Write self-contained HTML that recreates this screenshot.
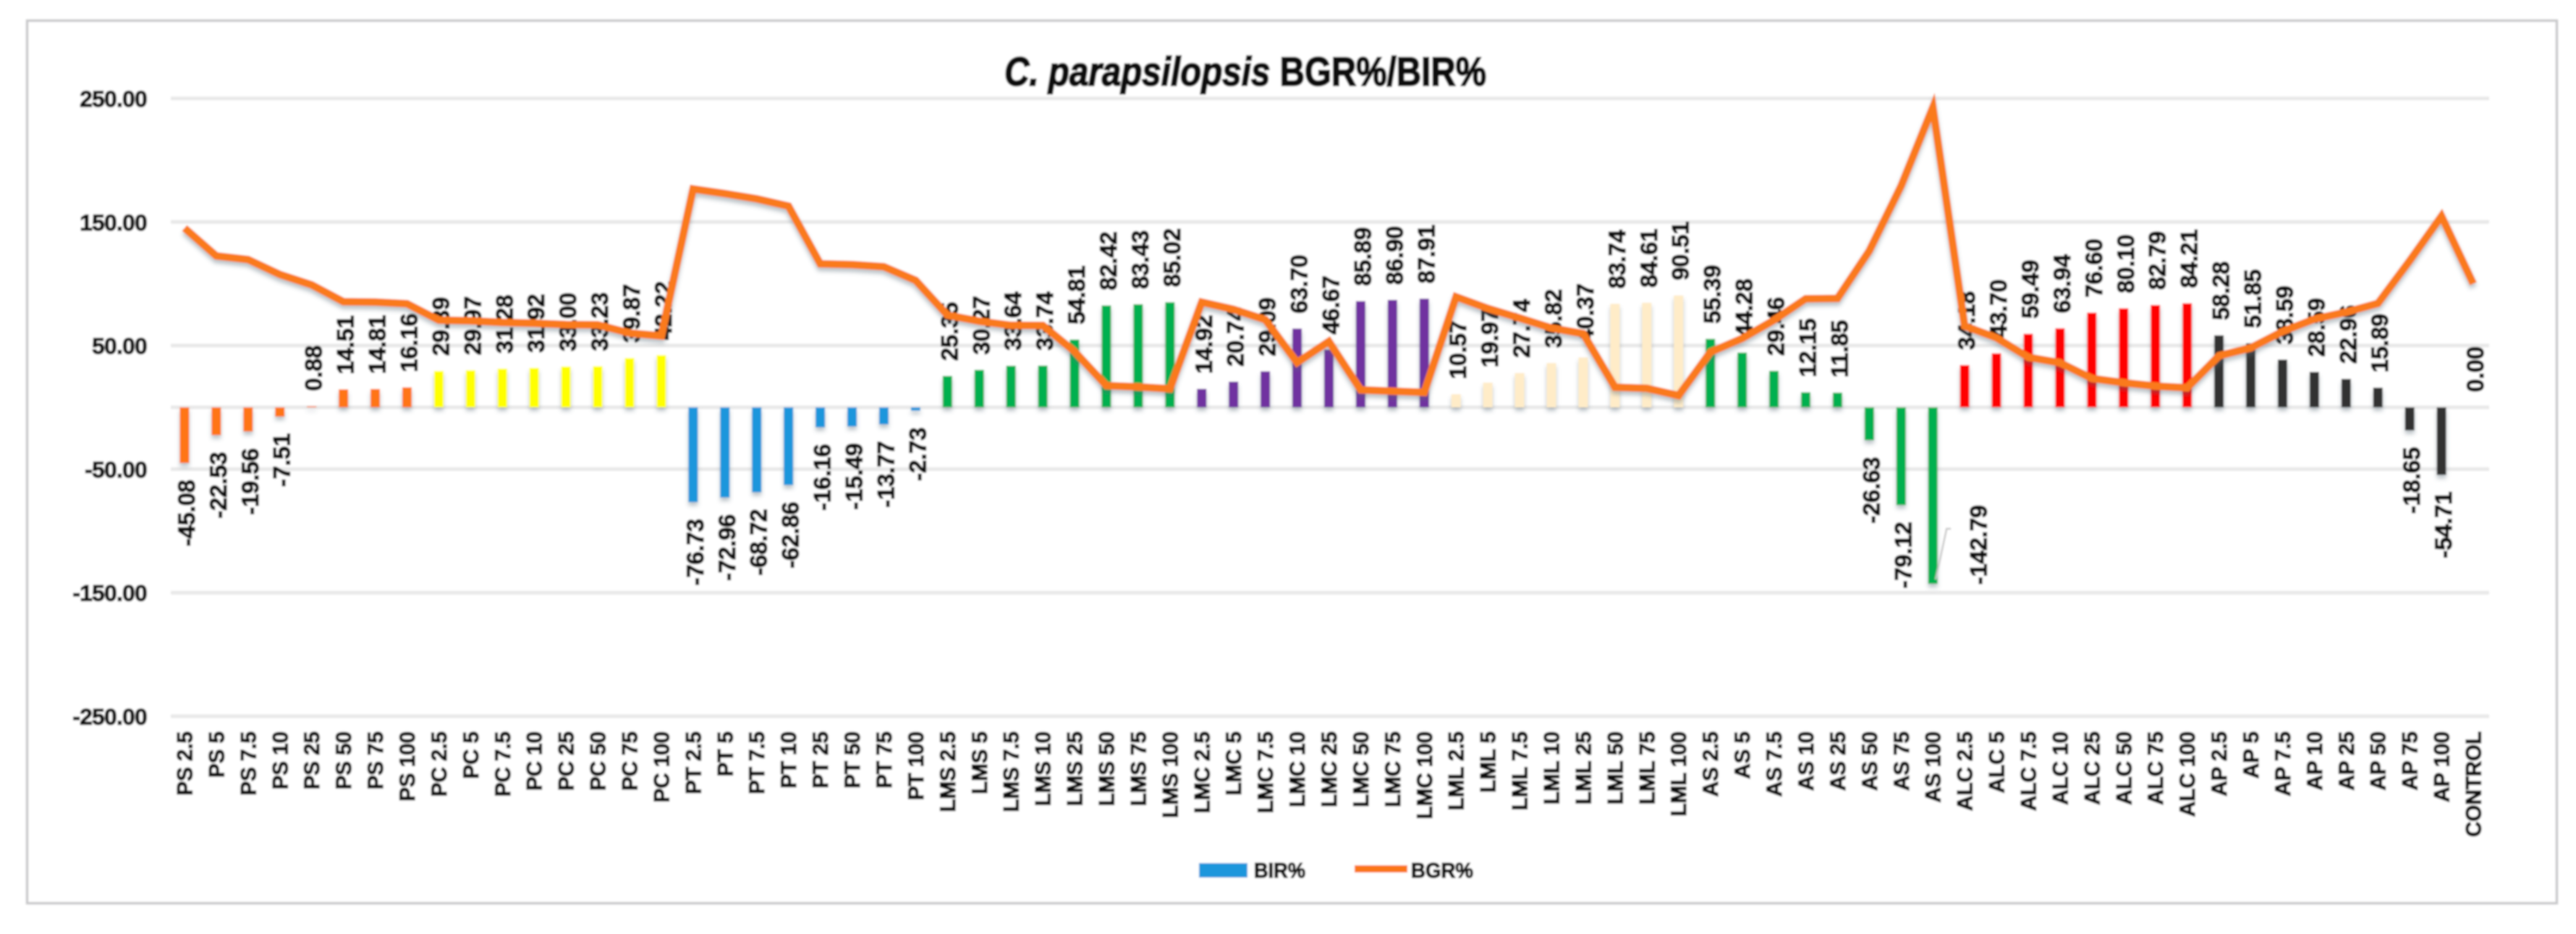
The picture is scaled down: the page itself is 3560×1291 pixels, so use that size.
<!DOCTYPE html>
<html lang="en">
<head>
<meta charset="utf-8">
<title>C. parapsilopsis BGR%/BIR%</title>
<style>
html,body{margin:0;padding:0;background:#fff;width:3560px;height:1291px;overflow:hidden}
svg{display:block}
text{font-family:"Liberation Sans",sans-serif;font-weight:700;fill:#111;stroke:#111;stroke-width:1.3px}
#chart-title-text{stroke-width:2.2px}
</style>
</head>
<body>
<svg id="chart" xmlns="http://www.w3.org/2000/svg" width="3560" height="1291" viewBox="0 0 3560 1291">
  <defs>
    <filter id="soft" x="0" y="0" width="100%" height="100%" filterUnits="objectBoundingBox">
      <feGaussianBlur stdDeviation="1.2"/>
    </filter>
    <filter id="shadow" x="-2%" y="-10%" width="104%" height="125%">
      <feDropShadow dx="0" dy="5" stdDeviation="3" flood-color="#5a6a78" flood-opacity="0.4"/>
    </filter>
  </defs>
  <g id="root" filter="url(#soft)">
    <rect x="0" y="0" width="3560" height="1291" fill="#fff"/>
    <rect x="37.5" y="28.5" width="3496" height="1220" fill="#fff" stroke="#c9c9cb" stroke-width="3.5"/>
    <text id="chart-title-text" x="1388" y="118" font-size="56" textLength="666" lengthAdjust="spacingAndGlyphs"><tspan font-style="italic">C. parapsilopsis</tspan> BGR%/BIR%</text>
    <g id="grid"></g>
    <g id="yLabels"></g>
    <g id="bars" filter="url(#shadow)"></g>
    <g id="valueLabels"></g>
    <g id="lineLayer" filter="url(#shadow)"></g>
    <g id="xLabels"></g>
    <g>
      <rect x="1657" y="1193" width="67" height="20" fill="#1e96dc"/>
      <text x="1733" y="1213" font-size="29" textLength="71" lengthAdjust="spacingAndGlyphs">BIR%</text>
      <rect x="1872" y="1196" width="73" height="10" fill="#fb7414"/>
      <text x="1950" y="1213" font-size="29" textLength="86" lengthAdjust="spacingAndGlyphs">BGR%</text>
    </g>
  </g>
</svg>
<script>
const categories = [
  "PS 2.5","PS 5","PS 7.5","PS 10","PS 25","PS 50","PS 75","PS 100",
  "PC 2.5","PC 5","PC 7.5","PC 10","PC 25","PC 50","PC 75","PC 100",
  "PT 2.5","PT 5","PT 7.5","PT 10","PT 25","PT 50","PT 75","PT 100",
  "LMS 2.5","LMS 5","LMS 7.5","LMS 10","LMS 25","LMS 50","LMS 75","LMS 100",
  "LMC 2.5","LMC 5","LMC 7.5","LMC 10","LMC 25","LMC 50","LMC 75","LMC 100",
  "LML 2.5","LML 5","LML 7.5","LML 10","LML 25","LML 50","LML 75","LML 100",
  "AS 2.5","AS 5","AS 7.5","AS 10","AS 25","AS 50","AS 75","AS 100",
  "ALC 2.5","ALC 5","ALC 7.5","ALC 10","ALC 25","ALC 50","ALC 75","ALC 100",
  "AP 2.5","AP 5","AP 7.5","AP 10","AP 25","AP 50","AP 75","AP 100",
  "CONTROL"
];
const birValues = [
  -45.08,-22.53,-19.56,-7.51,0.88,14.51,14.81,16.16,
  29.39,29.97,31.28,31.92,33.00,33.23,39.87,42.22,
  -76.73,-72.96,-68.72,-62.86,-16.16,-15.49,-13.77,-2.73,
  25.35,30.27,33.64,33.74,54.81,82.42,83.43,85.02,
  14.92,20.74,29.09,63.70,46.67,85.89,86.90,87.91,
  10.57,19.97,27.74,35.82,40.37,83.74,84.61,90.51,
  55.39,44.28,29.46,12.15,11.85,-26.63,-79.12,-142.79,
  34.18,43.70,59.49,63.94,76.60,80.10,82.79,84.21,
  58.28,51.85,38.59,28.59,22.96,15.89,-18.65,-54.71,
  0.00
];
const bgrValues = [
  145.08,122.53,119.56,107.51,99.12,85.49,85.19,83.84,
  70.61,70.03,68.72,68.08,67.00,66.77,60.13,57.78,
  176.73,172.96,168.72,162.86,116.16,115.49,113.77,102.73,
  74.65,69.73,66.36,66.26,45.19,17.58,16.57,14.98,
  85.08,79.26,70.91,36.30,53.33,14.11,13.10,12.09,
  89.43,80.03,72.26,64.18,59.63,16.26,15.39,9.49,
  44.61,55.72,70.54,87.85,88.15,126.63,179.12,242.79,
  65.82,56.30,40.51,36.06,23.40,19.90,17.21,15.79,
  41.72,48.15,61.41,71.41,77.04,84.11,118.65,154.71,
  100.00
];
const yTicks = [250,150,50,-50,-150,-250];

const NS = "http://www.w3.org/2000/svg";
const plotLeft = 233, plotRight = 3440, zeroY = 563, pxPerUnit = 1.708;
const step = (plotRight - plotLeft) / categories.length;
const palette = {PS:"#ff7514",PC:"#ffff00",PT:"#1e96dc",LMS:"#00b050",LMC:"#7030a0",LML:"#ffecc8",AS:"#00b050",ALC:"#ff0000",AP:"#333333",CONTROL:"#999999"};
const xScale = i => plotLeft + step * (i + 0.5);
const yScale = v => zeroY - v * pxPerUnit;
const make = (tag, attrs, parent, txt) => {
  const n = document.createElementNS(NS, tag);
  for (const k in attrs) n.setAttribute(k, attrs[k]);
  if (txt !== undefined) n.textContent = txt;
  parent.appendChild(n);
  return n;
};
const grid = document.getElementById("grid");
const yLabels = document.getElementById("yLabels");
const bars = document.getElementById("bars");
const valueLabels = document.getElementById("valueLabels");
const lineLayer = document.getElementById("lineLayer");
const xLabels = document.getElementById("xLabels");

yTicks.concat([0]).forEach(t => {
  const g = make("line", {x1: plotLeft + 3, x2: plotRight, y1: yScale(t), y2: yScale(t), stroke: "#e8e8e8", "stroke-width": 5}, grid);
  
  
});
yTicks.forEach(t => {
  const l = make("text", {x: 203, y: yScale(t) + 11.5, "font-size": 31.5, "text-anchor": "end", "letter-spacing": "-0.6"}, yLabels, t.toFixed(2));
  
  
});
categories.forEach((c, i) => {
  const v = birValues[i];
  const x = xScale(i);
  const top = Math.min(yScale(v), zeroY);
  const h = Math.abs(yScale(v) - zeroY);
  const r = make("rect", {x: x - 6.5, y: top, width: 13, height: h, fill: palette[c.split(" ")[0]]}, bars);
  
  

  let lx = x + 2.5, ly = v >= 0 ? yScale(v) - 21 : yScale(v) + 23;
  let anchor = v >= 0 ? "start" : "end";
  if (i === 55) {
    lx = x + 63;
    ly = yScale(v) - 18 - 91;
    const lead = make("polyline", {points: (x + 4) + "," + (yScale(v) - 6) + " " + (x + 19) + "," + (yScale(v) - 76) + " " + (x + 25) + "," + (yScale(v) - 76), fill: "none", stroke: "#c8c8c8", "stroke-width": 2.5}, valueLabels);
    
    
  }
  const bx = lx + 11.5;
  const t = make("text", {x: bx, y: ly, "font-size": 32.5, "text-anchor": anchor, transform: "rotate(-90 " + bx + " " + ly + ")"}, valueLabels, v.toFixed(2));
  
  

  const cx = x + 10.5;
  const cl = make("text", {x: cx, y: 1011, "font-size": 29.5, "text-anchor": "end", transform: "rotate(-90 " + cx + " 1011)"}, xLabels, c);
  
  
});
const line = make("polyline", {points: bgrValues.map((v, i) => xScale(i) + "," + yScale(v)).join(" "), fill: "none", stroke: "#fa7a1e", "stroke-width": 10.5, "stroke-linejoin": "miter"}, lineLayer);


</script>
</body>
</html>
